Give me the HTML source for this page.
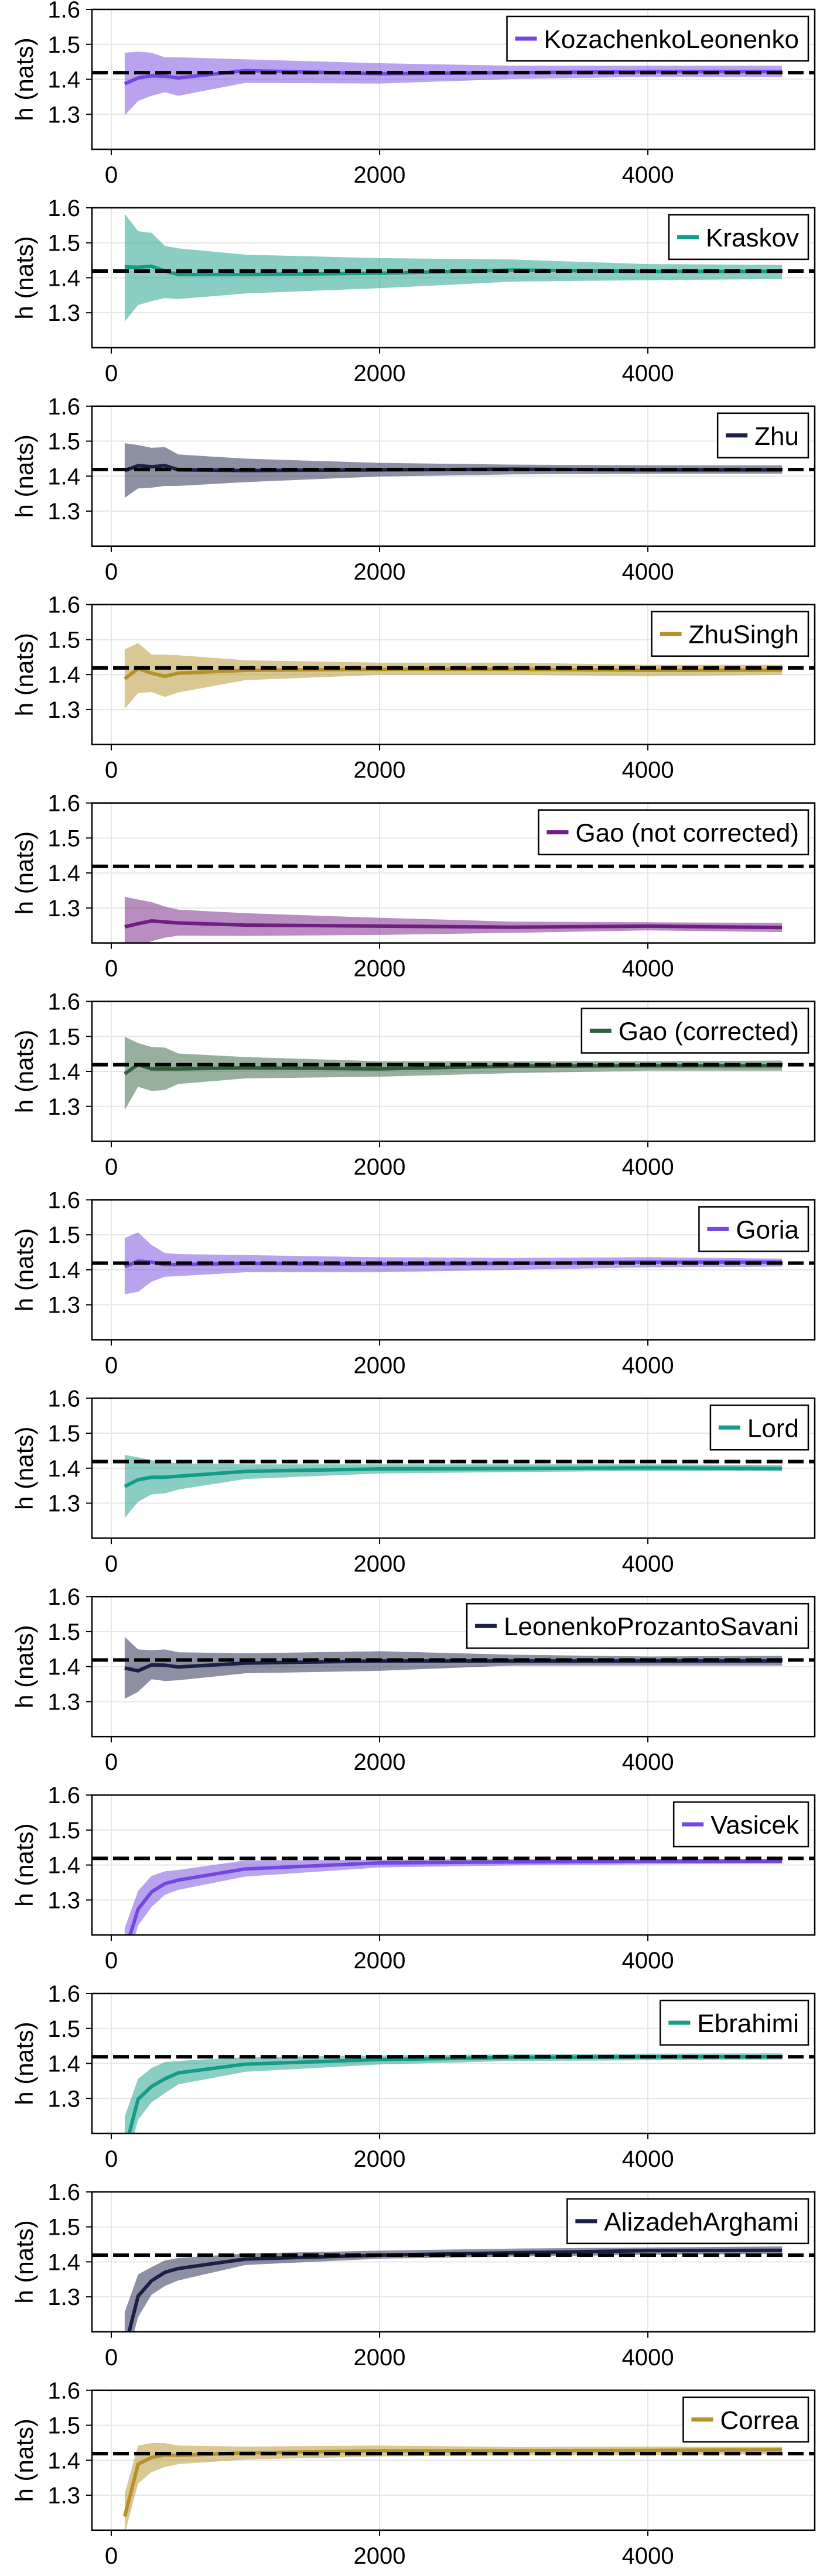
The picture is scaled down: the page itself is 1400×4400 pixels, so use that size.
<!DOCTYPE html>
<html><head><meta charset="utf-8"><style>
html,body{margin:0;padding:0;background:#fff;}
svg{display:block;font-family:"Liberation Sans",Arial,sans-serif;}
</style></head><body>
<svg id="chart" width="1400" height="4400" viewBox="0 0 1400 4400" xmlns="http://www.w3.org/2000/svg"></svg>
<script>
const xs = [100,200,300,400,500,1000,2000,3000,4000,5000];
const xTicks = [0,2000,4000];
const yTicks = [1.3,1.4,1.5,1.6];
const yTickLabels = ["1.3","1.4","1.5","1.6"];
const trueValue = 1.419;
const names = ["KozachenkoLeonenko","Kraskov","Zhu","ZhuSingh","Gao (not corrected)","Gao (corrected)","Goria","Lord","LeonenkoProzantoSavani","Vasicek","Ebrahimi","AlizadehArghami","Correa"];
const colors = ["#7448e0","#139c87","#1b1f45","#b3922a","#6f1d80","#2f5f3b","#7448e0","#139c87","#1b1f45","#7448e0","#139c87","#1b1f45","#b3922a"];

const klMean=[1.387,1.404,1.410,1.409,1.404,1.425,1.416,1.419,1.422,1.422];
const klUp=[1.476,1.479,1.476,1.463,1.463,1.457,1.446,1.439,1.439,1.439];
const klLo=[1.297,1.338,1.353,1.363,1.353,1.390,1.388,1.401,1.407,1.406];
const krMean=[1.431,1.430,1.433,1.419,1.409,1.409,1.413,1.422,1.418,1.418];
const krUp=[1.583,1.533,1.528,1.491,1.484,1.466,1.456,1.452,1.439,1.437];
const krLo=[1.275,1.322,1.333,1.342,1.339,1.355,1.370,1.389,1.393,1.396];
const zhuMean=[1.416,1.430,1.427,1.430,1.418,1.416,1.418,1.420,1.418,1.418];
const zhuUp=[1.494,1.489,1.481,1.483,1.462,1.450,1.438,1.433,1.431,1.431];
const zhuLo=[1.338,1.365,1.367,1.372,1.372,1.383,1.399,1.405,1.407,1.407];
const zsMean=[1.388,1.417,1.404,1.395,1.404,1.412,1.415,1.415,1.412,1.413];
const zsUp=[1.472,1.490,1.457,1.457,1.455,1.441,1.434,1.434,1.428,1.428];
const zsLo=[1.302,1.347,1.350,1.336,1.349,1.384,1.399,1.399,1.395,1.399];
const gncMean=[1.246,1.255,1.263,1.260,1.257,1.251,1.248,1.245,1.248,1.244];
const gncUp=[1.332,1.324,1.317,1.304,1.295,1.285,1.272,1.261,1.259,1.257];
const gncLo=[1.180,1.190,1.205,1.215,1.221,1.220,1.223,1.229,1.236,1.231];
const gcMean=[1.393,1.420,1.407,1.407,1.407,1.410,1.407,1.415,1.416,1.416];
const gcUp=[1.499,1.481,1.470,1.468,1.451,1.441,1.429,1.429,1.429,1.431];
const gcLo=[1.289,1.356,1.344,1.347,1.364,1.380,1.385,1.395,1.402,1.402];
const goMean=[1.409,1.425,1.422,1.415,1.415,1.418,1.416,1.418,1.422,1.422];
const goUp=[1.491,1.507,1.471,1.448,1.445,1.442,1.436,1.434,1.436,1.432];
const goLo=[1.330,1.337,1.366,1.380,1.382,1.393,1.393,1.400,1.407,1.409];
const loMean=[1.348,1.367,1.374,1.374,1.377,1.391,1.398,1.399,1.401,1.399];
const loUp=[1.438,1.431,1.423,1.418,1.414,1.411,1.411,1.411,1.411,1.409];
const loLo=[1.258,1.304,1.325,1.328,1.339,1.369,1.385,1.389,1.392,1.391];
const lpsMean=[1.396,1.388,1.405,1.404,1.399,1.410,1.416,1.416,1.416,1.416];
const lpsUp=[1.485,1.449,1.447,1.449,1.441,1.438,1.444,1.434,1.429,1.431];
const lpsLo=[1.308,1.328,1.364,1.359,1.361,1.381,1.388,1.403,1.403,1.403];
const vaMean=[1.150,1.274,1.323,1.347,1.357,1.389,1.406,1.409,1.411,1.411];
const vaUp=[1.220,1.326,1.369,1.382,1.386,1.413,1.415,1.417,1.417,1.418];
const vaLo=[1.100,1.227,1.280,1.315,1.329,1.367,1.393,1.399,1.402,1.404];
const ebMean=[1.150,1.298,1.334,1.356,1.373,1.398,1.411,1.417,1.419,1.419];
const ebUp=[1.248,1.356,1.387,1.404,1.407,1.418,1.423,1.426,1.428,1.429];
const ebLo=[1.100,1.239,1.289,1.315,1.340,1.376,1.397,1.407,1.409,1.411];
const aaMean=[1.150,1.302,1.346,1.370,1.381,1.408,1.419,1.426,1.432,1.433];
const aaUp=[1.256,1.364,1.385,1.404,1.411,1.424,1.432,1.438,1.441,1.444];
const aaLo=[1.100,1.242,1.306,1.331,1.347,1.391,1.409,1.415,1.420,1.423];
const coMean=[1.239,1.389,1.408,1.415,1.414,1.421,1.427,1.427,1.428,1.430];
const coUp=[1.305,1.442,1.449,1.449,1.442,1.439,1.442,1.438,1.439,1.439];
const coLo=[1.190,1.333,1.366,1.381,1.389,1.402,1.411,1.414,1.415,1.417];

const means=[klMean,krMean,zhuMean,zsMean,gncMean,gcMean,goMean,loMean,lpsMean,vaMean,ebMean,aaMean,coMean];
const uppers=[klUp,krUp,zhuUp,zsUp,gncUp,gcUp,goUp,loUp,lpsUp,vaUp,ebUp,aaUp,coUp];
const lowers=[klLo,krLo,zhuLo,zsLo,gncLo,gcLo,goLo,loLo,lpsLo,vaLo,ebLo,aaLo,coLo];

const NS="http://www.w3.org/2000/svg";
const svg=document.getElementById('chart');
const PL=157, PR=1391, PH=239, PITCH=338.9, TOP0=16;
const XMIN=-144, XMAX=5244, YMIN=1.2, YMAX=1.6;
function sx(v){return PL+(v-XMIN)/(XMAX-XMIN)*(PR-PL);}
function mk(tag,attrs,parent){const e=document.createElementNS(NS,tag);for(const k in attrs)e.setAttribute(k,attrs[k]);(parent||svg).appendChild(e);return e;}

names.forEach((name,i)=>{
  const top=TOP0+i*PITCH, bot=top+PH;
  const sy=v=>bot-(v-YMIN)/(YMAX-YMIN)*PH;
  const g=mk('g',{});
  
  
  const cp=mk('clipPath',{id:'clip'+i},g);
  mk('rect',{x:PL,y:top,width:PR-PL,height:PH},cp);
  xTicks.forEach(t=>{const l=mk('line',{x1:sx(t),x2:sx(t),y1:top,y2:bot,stroke:'#e6e6e6','stroke-width':2},g);
    });
  yTicks.forEach(t=>{const l=mk('line',{x1:PL,x2:PR,y1:sy(t),y2:sy(t),stroke:'#e6e6e6','stroke-width':2},g);
    });
  const inner=mk('g',{'clip-path':'url(#clip'+i+')'},g);
  let d='';
  xs.forEach((x,j)=>{d+=(j?'L':'M')+sx(x).toFixed(1)+','+sy(uppers[i][j]).toFixed(1);});
  for(let j=xs.length-1;j>=0;j--){d+='L'+sx(xs[j]).toFixed(1)+','+sy(lowers[i][j]).toFixed(1);}
  const band=mk('path',{d:d+'Z',fill:colors[i],'fill-opacity':0.5,stroke:'none'},inner);
  
  
  const pts=xs.map((x,j)=>sx(x).toFixed(1)+','+sy(means[i][j]).toFixed(1)).join(' ');
  const line=mk('polyline',{points:pts,fill:'none',stroke:colors[i],'stroke-width':6,'stroke-linejoin':'round'},inner);
  
  
  const ref=mk('line',{x1:PL,x2:PR,y1:sy(trueValue),y2:sy(trueValue),stroke:'#000','stroke-width':6,'stroke-dasharray':'27 9'},inner);
  
  
  const fr=mk('rect',{x:PL,y:top,width:PR-PL,height:PH,fill:'none',stroke:'#000','stroke-width':2.5},g);
  
  
  xTicks.forEach(t=>{mk('line',{x1:sx(t),x2:sx(t),y1:bot,y2:bot+10,stroke:'#000','stroke-width':2},g);
    const tx=mk('text',{x:sx(t),y:bot+57,'font-size':40,'text-anchor':'middle',fill:'#000'},g);tx.textContent=t;
    });
  yTicks.forEach((t,k)=>{mk('line',{x1:PL-10,x2:PL,y1:sy(t),y2:sy(t),stroke:'#000','stroke-width':2},g);
    const tx=mk('text',{x:137,y:sy(t)+14,'font-size':40,'text-anchor':'end',fill:'#000'},g);tx.textContent=yTickLabels[k];
    });
  const yl=mk('text',{x:0,y:0,'font-size':42,'text-anchor':'middle',fill:'#000',transform:'translate(56,'+(top+PH/2)+') rotate(-90)'},g);
  yl.textContent='h (nats)';
  
  
  const lg=mk('g',{},g);
  
  
  const lt=mk('text',{x:1364,y:top+66,'font-size':44,'text-anchor':'end',fill:'#000'},lg);
  lt.textContent=name;
  
  
  const w=lt.getComputedTextLength();
  const tl=1364-w;
  const box=mk('rect',{x:tl-63,y:top+12,width:1380-(tl-63),height:76,fill:'#fff',stroke:'#000','stroke-width':2.5},lg);
  lg.insertBefore(box,lt);
  const sw=mk('line',{x1:tl-49,x2:tl-12,y1:top+50,y2:top+50,stroke:colors[i],'stroke-width':7},lg);
  
  
});
</script>
</body></html>
